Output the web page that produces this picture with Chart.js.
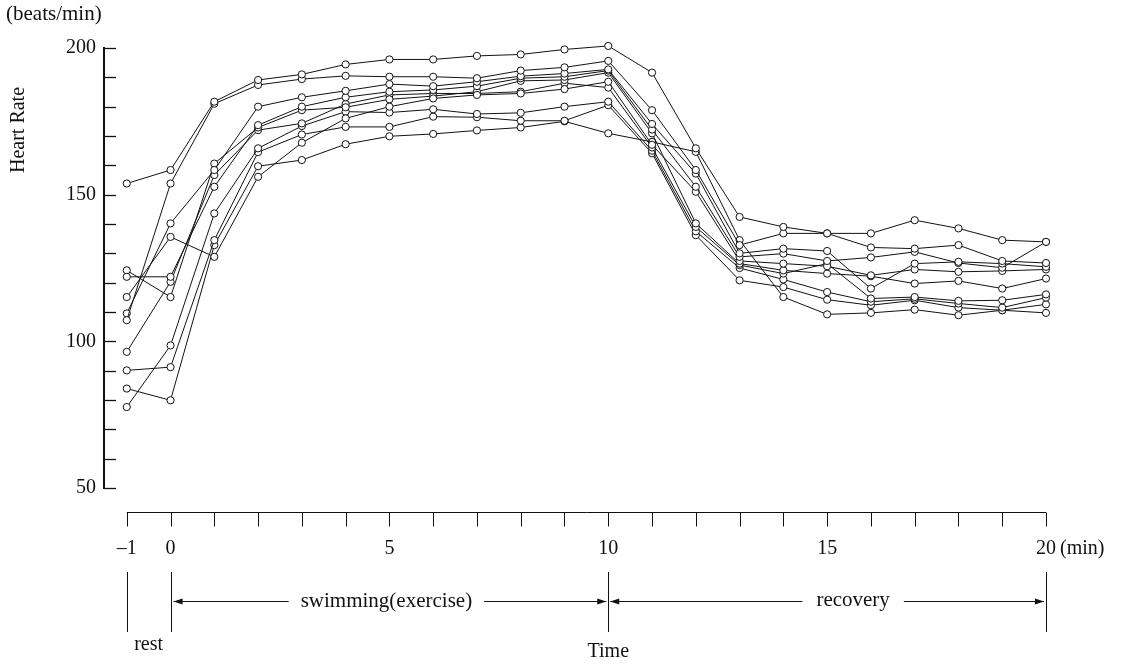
<!DOCTYPE html>
<html>
<head>
<meta charset="utf-8">
<script src="https://cdn.jsdelivr.net/npm/chart.js@4.4.1/dist/chart.umd.min.js"></script>
<style>
  body { margin: 0; background: #fff; }
  #wrap { width: 1125px; height: 665px; }
</style>
</head>
<body>
<div id="wrap"><canvas id="chart-hr"></canvas></div>
<script>
// time in minutes, -1 = rest
const minutes = [-1, 0, 1, 2, 3, 4, 5, 6, 7, 8, 9, 10, 11, 12, 13, 14, 15, 16, 17, 18, 19, 20];

// heart rate of each swimmer (beats/min)
const subject1 = [153.8, 158.4, 181.7, 189.1, 191.0, 194.4, 196.1, 196.1, 197.3, 197.8, 199.5, 200.7, 191.6, 165.8, 142.4, 139.0, 136.8, 136.8, 141.3, 138.5, 134.5, 133.9];
const subject2 = [107.2, 153.8, 181.0, 187.4, 189.4, 190.5, 190.2, 190.2, 189.7, 192.3, 193.4, 195.6, 178.8, 158.4, 132.8, 136.8, 136.8, 132.0, 131.6, 132.8, 127.4, 126.7];
const subject3 = [109.5, 140.2, 158.4, 180.0, 183.2, 185.4, 187.7, 187.0, 188.5, 190.4, 191.3, 192.7, 174.1, 157.2, 130.0, 131.6, 130.8, 118.0, 126.5, 127.1, 126.5, 125.4];
const subject4 = [122.0, 122.0, 152.7, 173.7, 180.0, 183.2, 185.1, 185.7, 187.0, 189.7, 190.2, 192.3, 172.2, 152.7, 128.8, 129.9, 127.4, 128.6, 130.5, 126.7, 125.1, 133.9];
const subject5 = [115.1, 135.6, 128.8, 156.1, 167.7, 176.0, 180.0, 182.8, 184.0, 184.5, 186.0, 188.5, 167.0, 151.0, 127.4, 126.5, 125.6, 122.5, 124.5, 123.7, 124.0, 124.5];
const subject6 = [124.2, 115.1, 160.6, 172.9, 178.8, 179.8, 182.5, 183.6, 185.1, 188.8, 189.1, 191.6, 170.9, 140.2, 126.5, 124.2, 123.1, 122.2, 119.7, 120.6, 118.0, 121.4];
const subject7 = [96.4, 120.3, 156.7, 172.0, 174.3, 180.9, 184.0, 184.5, 184.5, 185.1, 188.0, 186.5, 166.1, 139.0, 126.0, 123.1, 126.5, 114.6, 115.1, 113.8, 114.0, 116.0];
const subject8 = [77.6, 98.6, 143.6, 165.8, 173.4, 178.3, 178.0, 179.1, 177.5, 177.9, 180.0, 181.7, 165.0, 137.5, 125.0, 121.1, 116.8, 113.5, 114.5, 112.9, 111.5, 114.9];
const subject9 = [90.1, 91.2, 134.5, 164.5, 170.5, 173.1, 173.1, 176.6, 176.4, 175.2, 175.2, 180.5, 164.1, 136.2, 120.8, 118.5, 114.2, 112.3, 114.0, 111.5, 110.6, 112.6];
const subject10 = [83.9, 79.9, 132.8, 159.7, 161.8, 167.2, 169.9, 170.7, 171.9, 172.9, 175.0, 170.9, 168.0, 164.6, 134.5, 115.1, 109.2, 109.7, 110.8, 108.9, 110.6, 109.7];

const subjects = [subject1, subject2, subject3, subject4, subject5, subject6, subject7, subject8, subject9, subject10];

const yTickLabels = [50, 100, 150, 200];
const xTickLabels = [-1, 0, 5, 10, 15, 20];
const phaseMarks = [-1, 0, 10, 20];

const FONT = "'Liberation Serif', 'Times New Roman', serif";
Chart.defaults.font.family = FONT;
Chart.defaults.color = '#111';

// axis ticks, x axis below the plot, phase annotation and titles
const extras = {
    id: 'extras',
    afterDraw(chart) {
        const ctx = chart.ctx;
        const x = chart.scales.x;
        const y = chart.scales.y;
        const left = chart.chartArea.left;
        ctx.save();
        ctx.strokeStyle = '#111';
        ctx.fillStyle = '#111';

        // inward ticks on the y axis every 10
        ctx.lineWidth = 1.3;
        for (let v = 50; v <= 200; v += 10) {
            const py = Math.round(y.getPixelForValue(v)) + 0.5;
            ctx.beginPath();
            ctx.moveTo(left, py);
            ctx.lineTo(left + 12, py);
            ctx.stroke();
        }

        // x axis drawn a bit below the plot
        const axisY = 512.5;
        ctx.lineWidth = 1;
        ctx.beginPath();
        ctx.moveTo(x.getPixelForValue(-1), axisY);
        ctx.lineTo(x.getPixelForValue(20), axisY);
        ctx.stroke();
        for (let m = -1; m <= 20; m++) {
            const px = Math.round(x.getPixelForValue(m)) + 0.5;
            ctx.beginPath();
            ctx.moveTo(px, axisY);
            ctx.lineTo(px, axisY + 14);
            ctx.stroke();
        }
        ctx.font = '20px ' + FONT;
        ctx.textAlign = 'center';
        ctx.textBaseline = 'middle';
        xTickLabels.forEach(m => {
            ctx.fillText(String(m).replace('-', '\u2013'), x.getPixelForValue(m), 549);
        });
        ctx.textAlign = 'left';
        ctx.fillText('(min)', x.getPixelForValue(20) + 14, 549);

        // phase marks
        phaseMarks.forEach(m => {
            const px = Math.round(x.getPixelForValue(m)) + 0.5;
            ctx.beginPath();
            ctx.moveTo(px, 572);
            ctx.lineTo(px, 632);
            ctx.stroke();
        });

        const arrowY = 601.5;
        function arrow(x1, x2, headAtEnd) {
            ctx.beginPath();
            ctx.moveTo(x1, arrowY);
            ctx.lineTo(x2, arrowY);
            ctx.stroke();
            const hx = headAtEnd ? x2 : x1;
            const d = headAtEnd ? -1 : 1;
            ctx.beginPath();
            ctx.moveTo(hx, arrowY);
            ctx.lineTo(hx + d * 9, arrowY - 3);
            ctx.lineTo(hx + d * 9, arrowY + 3);
            ctx.closePath();
            ctx.fill();
        }
        const p0 = x.getPixelForValue(0), p10 = x.getPixelForValue(10), p20 = x.getPixelForValue(20);
        ctx.font = '21px ' + FONT;
        ctx.textAlign = 'center';
        const swimX = (p0 + p10) / 2 - 3;
        const swimW = ctx.measureText('swimming(exercise)').width;
        ctx.fillText('swimming(exercise)', swimX, arrowY);
        arrow(p0 + 3, swimX - swimW / 2 - 12, false);
        arrow(swimX + swimW / 2 + 12, p10 - 2, true);

        const recX = (p10 + p20) / 2 + 26;
        const recW = ctx.measureText('recovery').width;
        ctx.fillText('recovery', recX, arrowY - 1);
        arrow(p10 + 2, recX - recW / 2 - 14, false);
        arrow(recX + recW / 2 + 14, p20 - 2, true);

        ctx.font = '20px ' + FONT;
        ctx.fillText('rest', (x.getPixelForValue(-1) + p0) / 2, 645);
        ctx.fillText('Time', p10, 652);

        // unit and axis title
        ctx.font = '21px ' + FONT;
        ctx.textAlign = 'left';
        ctx.fillText('(beats/min)', 6, 14);
        ctx.save();
        ctx.translate(19, 130);
        ctx.rotate(-Math.PI / 2);
        ctx.textAlign = 'center';
        ctx.font = '20px ' + FONT;
        ctx.fillText('Heart Rate', 0, 0);
        ctx.restore();

        ctx.restore();
    }
};

const chart = new Chart(document.getElementById('chart-hr'), {
    type: 'line',
    data: {
        datasets: subjects.map((s, i) => ({
            label: 'Subject ' + (i + 1),
            data: minutes.map((m, j) => ({ x: m, y: s[j] })),
            borderColor: '#111',
            borderWidth: 1,
            pointRadius: 3.6,
            pointBackgroundColor: '#fff',
            pointBorderColor: '#111',
            pointBorderWidth: 1,
            tension: 0,
            clip: false
        }))
    },
    options: {
        responsive: true,
        maintainAspectRatio: false,
        animation: false,
        events: [],
        layout: { padding: { top: 48, right: 79, bottom: 177, left: 0 } },
        plugins: { legend: { display: false }, tooltip: { enabled: false } },
        scales: {
            x: {
                type: 'linear',
                min: -1.52,
                max: 20,
                display: false
            },
            y: {
                min: 50,
                max: 200,
                afterFit(scale) { scale.width = 104; },
                grid: { drawOnChartArea: false, drawTicks: false },
                border: { display: true, color: '#111', width: 2 },
                ticks: {
                    stepSize: 10,
                    padding: 8,
                    font: { size: 20 },
                    color: '#111',
                    callback: v => yTickLabels.includes(v) ? v : ''
                }
            }
        }
    },
    plugins: [extras]
});
</script>
</body>
</html>
